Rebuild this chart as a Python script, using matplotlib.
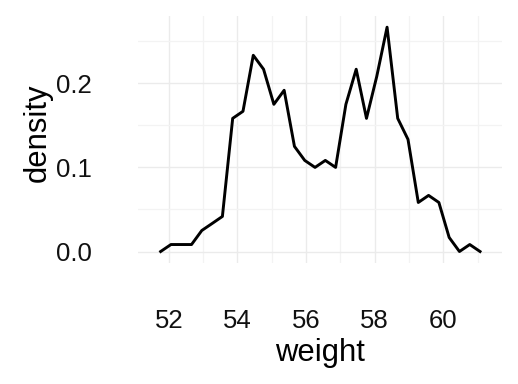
import matplotlib
matplotlib.use("Agg")
import matplotlib.pyplot as plt
from matplotlib.ticker import FixedLocator

plt.rcParams['font.family'] = ['Liberation Sans', 'DejaVu Sans']

weight = [51.76, 52.06, 52.36, 52.66, 52.96, 53.26, 53.56, 53.86, 54.16, 54.46,
          54.76, 55.06, 55.36, 55.66, 55.96, 56.26, 56.56, 56.86, 57.16, 57.46,
          57.76, 58.06, 58.36, 58.67, 58.97, 59.27, 59.57, 59.87, 60.17, 60.47,
          60.77, 61.07]
density = [0.0, 0.0083, 0.0083, 0.0083, 0.025, 0.0333, 0.0417, 0.1583, 0.1667, 0.2333,
           0.2167, 0.175, 0.1917, 0.125, 0.1083, 0.1, 0.1083, 0.1, 0.175, 0.2167,
           0.1583, 0.2083, 0.2667, 0.1583, 0.1333, 0.0583, 0.0667, 0.0583, 0.0167, 0.0,
           0.0083, 0.0]
x_ticks = [52, 54, 56, 58, 60]
y_ticks = [0.0, 0.1, 0.2]
y_tick_labels = ["0.0", "0.1", "0.2"]

W, H = 518, 384
fig = plt.figure(figsize=(W / 100, H / 100), dpi=100)
L, R, T, B = 138, 502, 16, 262.7
ax = fig.add_axes([L / W, 1 - B / H, (R - L) / W, (B - T) / H])

ax.plot(weight, density, color='black', lw=2.1, solid_joinstyle='round', zorder=3)

ax.set_xlim(51.10, 61.71)
ax.set_ylim(-0.0133, 0.28)
ax.xaxis.set_major_locator(FixedLocator(x_ticks))
ax.xaxis.set_minor_locator(FixedLocator([51, 53, 55, 57, 59, 61]))
ax.yaxis.set_major_locator(FixedLocator(y_ticks))
ax.yaxis.set_minor_locator(FixedLocator([0.05, 0.15, 0.25]))
ax.set_yticklabels(y_tick_labels)

ax.grid(which='major', color='#EBEBEB', lw=1.0)
ax.grid(which='minor', color='#F3F3F3', lw=0.9)
ax.set_axisbelow(True)
for s in ax.spines.values():
    s.set_visible(False)
ax.tick_params(which='both', length=0, labelsize=18.5, labelcolor='#111111', pad=33.0)

ax.set_xlabel('weight', fontsize=22.3, color='black')
ax.xaxis.label.set_va('baseline')
ax.xaxis.set_label_coords(0.5, (B - 361) / (B - T))
ax.set_ylabel('density', fontsize=22.3, color='black', rotation=90)
ax.yaxis.label.set_va('baseline')
ax.yaxis.label.set_ha('center')
ax.yaxis.set_label_coords((45.7 - L) / (R - L), (B - 132.5) / (B - T))

fig.savefig('out.png', dpi=100, facecolor='white')
